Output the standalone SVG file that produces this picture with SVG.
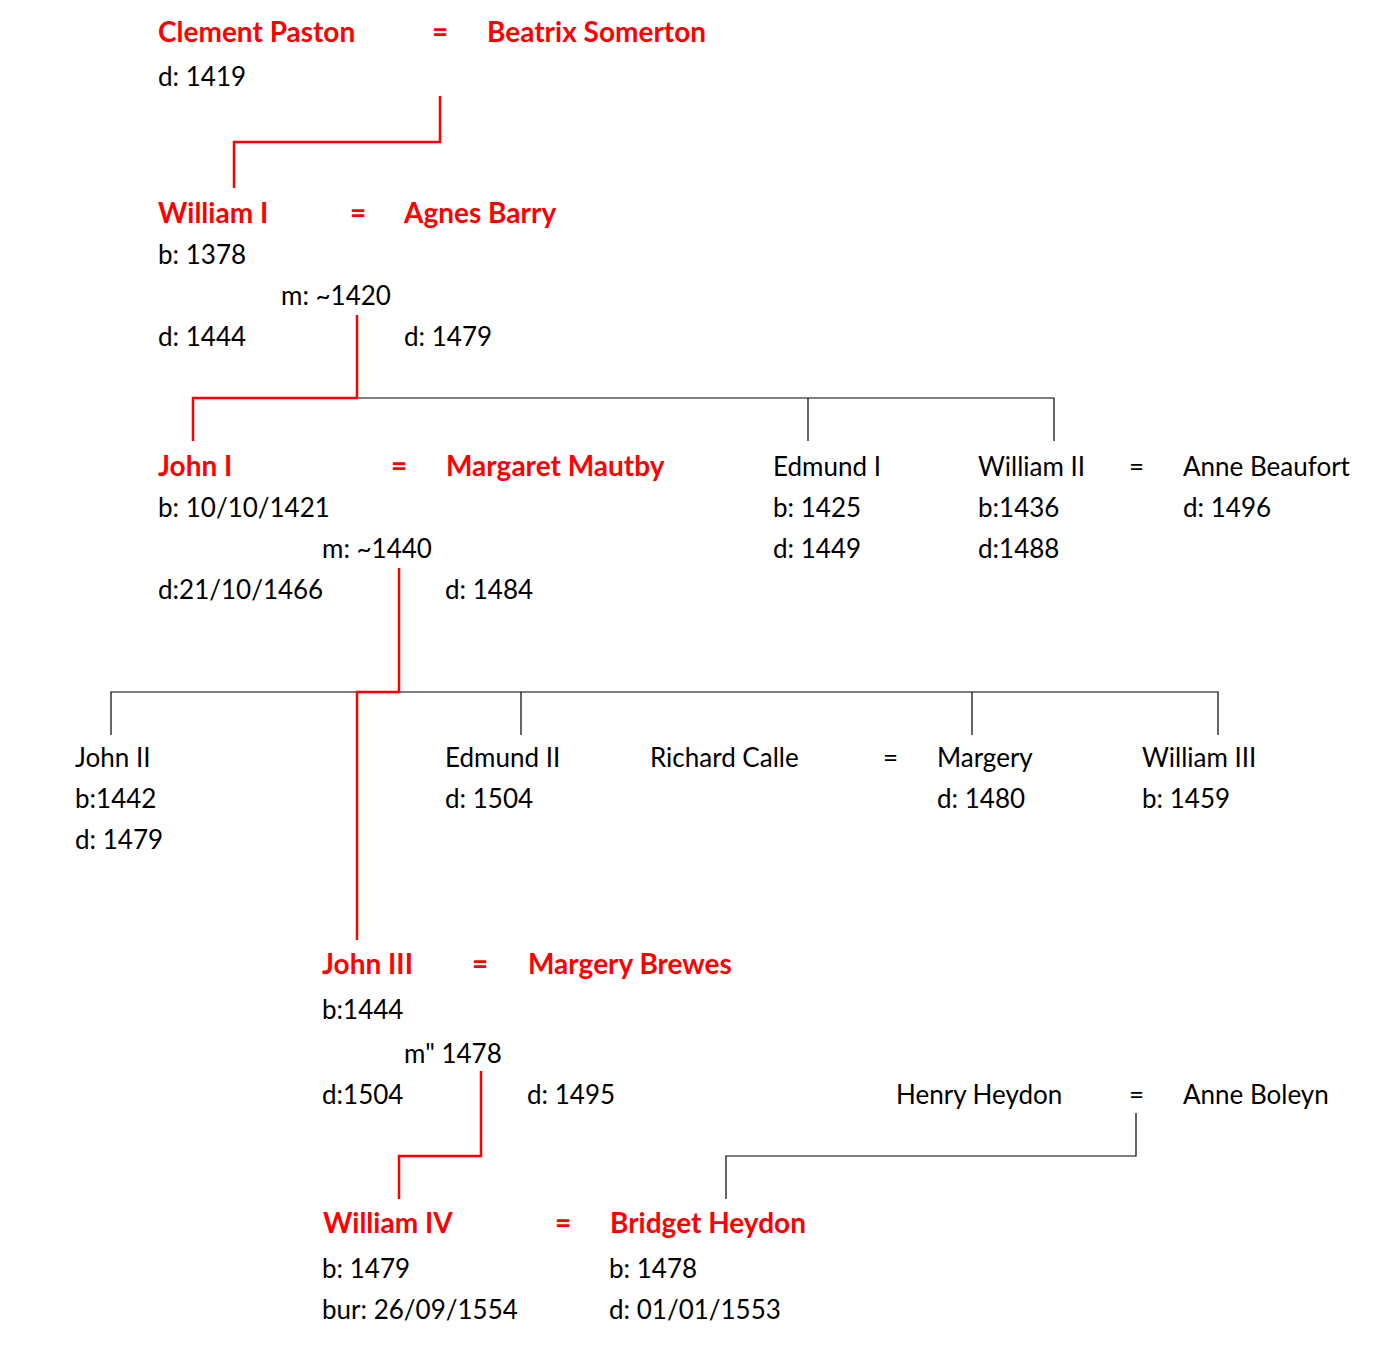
<svg xmlns="http://www.w3.org/2000/svg" width="1392" height="1360" viewBox="0 0 1392 1360">
<style>
text{font-family:Lato,"Open Sans",sans-serif;font-size:26px;fill:#000}
.r{fill:#f00;font-weight:bold;font-size:28px}
.lr{stroke:#f00;stroke-width:2.5;fill:none}
.lb{stroke:#000;stroke-width:1.2;fill:none}
</style>
<rect width="1392" height="1360" fill="#fff"/>
<g id="connectors">
<path class="lr" d="M440,96V142H234V188"/>
<path class="lb" d="M357,398H1054V441M808,398V441"/>
<path class="lr" d="M357,315V398H193V441"/>
<path class="lb" d="M111,735V692H1218V735M521,692V735M972,692V735"/>
<path class="lr" d="M399,568V692H357V940"/>
<path class="lr" d="M481,1071V1156H399V1199"/>
<path class="lb" d="M1136,1113V1156H726V1199"/>
</g>
<g id="clement"><text class="r" x="158" y="42">Clement Paston</text><text x="158" y="86">d: 1419</text></g>
<g id="eq1"><text class="r" x="432" y="42">=</text></g>
<g id="beatrix"><text class="r" x="487" y="42">Beatrix Somerton</text></g>
<g id="william1"><text class="r" x="158" y="223">William I</text><text x="158" y="264">b: 1378</text><text x="158" y="346">d: 1444</text></g>
<g id="eq2"><text class="r" x="350" y="223">=</text><text x="281" y="305">m: ~1420</text></g>
<g id="agnes"><text class="r" x="404" y="223">Agnes Barry</text><text x="404" y="346">d: 1479</text></g>
<g id="john1"><text class="r" x="158" y="476">John I</text><text x="158" y="517">b: 10/10/1421</text><text x="158" y="599">d:21/10/1466</text></g>
<g id="eq3"><text class="r" x="391" y="476">=</text><text x="322" y="558">m: ~1440</text></g>
<g id="margaret"><text class="r" x="446" y="476">Margaret Mautby</text><text x="445" y="599">d: 1484</text></g>
<g id="edmund1"><text x="773" y="476">Edmund I</text><text x="773" y="517">b: 1425</text><text x="773" y="558">d: 1449</text></g>
<g id="william2"><text x="978" y="476">William II</text><text x="978" y="517">b:1436</text><text x="978" y="558">d:1488</text></g>
<g id="eq4"><text x="1129" y="476">=</text></g>
<g id="anneb"><text x="1183" y="476">Anne Beaufort</text><text x="1183" y="517">d: 1496</text></g>
<g id="john2"><text x="75" y="767">John II</text><text x="75" y="808">b:1442</text><text x="75" y="849">d: 1479</text></g>
<g id="edmund2"><text x="445" y="767">Edmund II</text><text x="445" y="808">d: 1504</text></g>
<g id="richard"><text x="650" y="767">Richard Calle</text><text x="883" y="767">=</text></g>
<g id="margery"><text x="937" y="767">Margery</text><text x="937" y="808">d: 1480</text></g>
<g id="william3"><text x="1142" y="767">William III</text><text x="1142" y="808">b: 1459</text></g>
<g id="john3"><text class="r" x="322" y="974">John III</text><text x="322" y="1019">b:1444</text><text x="322" y="1104">d:1504</text></g>
<g id="eq5"><text class="r" x="472" y="974">=</text><text x="404" y="1063">m" 1478</text></g>
<g id="margeryb"><text class="r" x="528" y="974">Margery Brewes</text><text x="527" y="1104">d: 1495</text></g>
<g id="henry"><text x="896" y="1104">Henry Heydon</text><text x="1129" y="1104">=</text></g>
<g id="anneboleyn"><text x="1183" y="1104">Anne Boleyn</text></g>
<g id="william4"><text class="r" x="323" y="1233">William IV</text><text x="322" y="1278">b: 1479</text><text x="322" y="1319">bur: 26/09/1554</text></g>
<g id="eq6"><text class="r" x="555" y="1233">=</text></g>
<g id="bridget"><text class="r" x="610" y="1233">Bridget Heydon</text><text x="609" y="1278">b: 1478</text><text x="609" y="1319">d: 01/01/1553</text></g>
</svg>
